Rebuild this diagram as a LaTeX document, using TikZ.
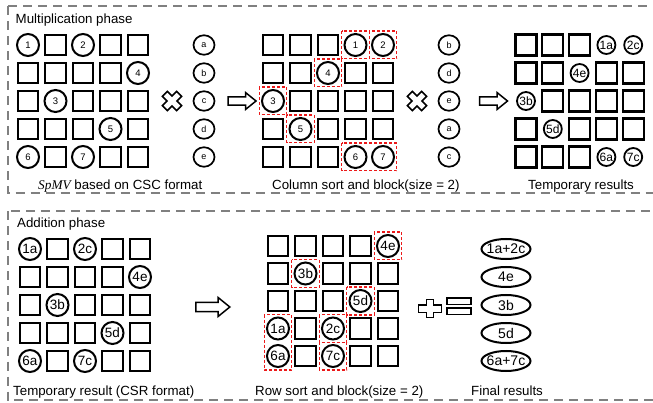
\documentclass[tikz,border=0pt]{standalone}
\usepackage{fontspec}
\setmainfont{Liberation Sans}
\newfontfamily\serifface{Liberation Serif}
\usetikzlibrary{shapes.geometric,shapes.arrows,calc}

% element table: \setel{matrix}{row-col}{label}
\newcommand\setel[3]{\expandafter\def\csname mel#1-#2\endcsname{#3}}
% 5x5 matrix: #1 name, #2 x0, #3 y0, #4 dx, #5 dy, #6 element style, #7 extra cell style
\newcommand\drawmat[7]{%
  \foreach \r in {1,...,5}{%
    \foreach \c in {1,...,5}{%
      \ifcsname mel#1-\r-\c\endcsname
        \node[#6] (#1-\r-\c) at ({#2+(\c-1)*#4},{#3+(\r-1)*#5}) {\makebox[0pt]{\csname mel#1-\r-\c\endcsname}};
      \else
        \node[cell,#7] (#1-\r-\c) at ({#2+(\c-1)*#4},{#3+(\r-1)*#5}) {};
      \fi}}}
% red dashed block around nodes #1 (top left) .. #2 (bottom right)
\newcommand\redblk[2]{\draw[blk] ($(#1)+(-13.7,-13.9)$) rectangle ($(#2)+(13.7,13.9)$);}

\definecolor{blkred}{RGB}{235,25,25}
\definecolor{panelgray}{RGB}{128,128,128}

\tikzset{
  cell/.style={draw, line width=2.2pt, minimum size=20.5pt, inner sep=0pt},
  elsmall/.style={circle, draw, line width=2pt, minimum size=22pt, inner sep=0pt,
    font=\fontsize{9.5}{10}\selectfont},
  elmid/.style={circle, draw, line width=1.8pt, minimum size=18pt, inner sep=0pt,
    font=\fontsize{12}{13}\selectfont},
  elbig/.style={circle, draw, line width=2pt, minimum size=22pt, inner sep=0pt,
    font=\fontsize{13.5}{14}\selectfont},
  vec/.style={ellipse, draw, line width=1.7pt, minimum width=21pt, minimum height=19.5pt,
    inner sep=0pt, font=\fontsize{9}{10}\selectfont},
  res/.style={ellipse, draw, line width=2pt, minimum width=49pt, minimum height=20pt,
    inner sep=0pt, font=\fontsize{14}{15}\selectfont},
  blk/.style={draw=blkred, line width=1.2pt, dash pattern=on 3pt off 2pt},
  panel/.style={draw=panelgray, line width=2pt, dash pattern=on 9pt off 6pt},
  captxt/.style={font=\fontsize{13.3}{16}\selectfont, inner sep=0pt, anchor=base west},
  bigarrow/.style={single arrow, draw, fill=white, line width=1.5pt, inner sep=3.3pt,
    single arrow head extend=4.3pt, single arrow tip angle=78, minimum height=28pt},
  opline/.style={draw, fill=white, line width=1.6pt, line join=miter},
}

\begin{document}
\begin{tikzpicture}[x=1pt,y=-1pt]
\useasboundingbox (0,0) rectangle (653,403);
\clip (0,0) rectangle (653,403);

% ---------- panels ----------
\draw[panel] (7.5,6.5) rectangle (665,193.5);
\draw[panel] (7.5,211.5) rectangle (665,400);
\node[captxt] (ttlmul) at (15.5,24) {Multiplication phase};
\node[captxt] (ttladd) at (17,228) {Addition phase};

% ---------- multiplication phase ----------
\setel{A}{1-1}{1}\setel{A}{1-3}{2}\setel{A}{2-5}{4}\setel{A}{3-2}{3}
\setel{A}{4-4}{5}\setel{A}{5-1}{6}\setel{A}{5-3}{7}
\drawmat{A}{28}{45}{27.5}{28}{elsmall}{}

\foreach \l [count=\i] in {a,b,c,d,e}
  \node[vec] (va-\i) at (204,{45+(\i-1)*28}) {\l};

\setel{B}{1-4}{1}\setel{B}{1-5}{2}\setel{B}{2-3}{4}\setel{B}{3-1}{3}
\setel{B}{4-2}{5}\setel{B}{5-4}{6}\setel{B}{5-5}{7}
\drawmat{B}{273}{45}{27.5}{28}{elsmall}{}
\redblk{B-1-4}{B-1-4}
\redblk{B-1-5}{B-1-5}
\redblk{B-2-3}{B-2-3}
\redblk{B-3-1}{B-3-1}
\redblk{B-4-2}{B-4-2}
\redblk{B-5-4}{B-5-5}

\foreach \l [count=\i] in {b,d,e,a,c}
  \node[vec] (vb-\i) at (449,{45+(\i-1)*28}) {\l};

\setel{C}{1-4}{1a}\setel{C}{1-5}{2c}\setel{C}{2-3}{4e}\setel{C}{3-1}{3b}
\setel{C}{4-2}{5d}\setel{C}{5-4}{6a}\setel{C}{5-5}{7c}
\drawmat{C}{526}{45}{26.8}{28}{elmid}{minimum size=21pt}

% multiplication signs
\foreach \px in {172,417}
  \draw[opline, shift={(\px,101)}, rotate=45]
    (-3.5,-10) -- (3.5,-10) -- (3.5,-3.5) -- (10,-3.5) -- (10,3.5) -- (3.5,3.5)
    -- (3.5,10) -- (-3.5,10) -- (-3.5,3.5) -- (-10,3.5) -- (-10,-3.5) -- (-3.5,-3.5) -- cycle;

\node[bigarrow] (arrA) at (239.5,101) {};
\node[bigarrow] (arrB) at (491,101) {};

\node[captxt] (capA) at (38,189.5) {{\serifface\itshape SpMV} based on CSC format};
\node[captxt] (capB) at (272,189.5) {Column sort and block(size = 2)};
\node[captxt] (capC) at (528,189.5) {Temporary results};

% ---------- addition phase ----------
\setel{D}{1-1}{1a}\setel{D}{1-3}{2c}\setel{D}{2-5}{4e}\setel{D}{3-2}{3b}
\setel{D}{4-4}{5d}\setel{D}{5-1}{6a}\setel{D}{5-3}{7c}
\drawmat{D}{30}{249}{27.5}{28}{elbig}{}

\node[bigarrow, minimum height=34pt, inner sep=3.8pt, single arrow head extend=5pt] (arrD) at (210,307) {};

\setel{E}{1-5}{4e}\setel{E}{2-2}{3b}\setel{E}{3-4}{5d}\setel{E}{4-1}{1a}
\setel{E}{4-3}{2c}\setel{E}{5-1}{6a}\setel{E}{5-3}{7c}
\drawmat{E}{278}{246}{27.5}{27.5}{elbig}{}
\redblk{E-1-5}{E-1-5}
\redblk{E-2-2}{E-2-2}
\redblk{E-3-4}{E-3-4}
\redblk{E-4-1}{E-5-1}
\redblk{E-4-3}{E-4-3}
\redblk{E-5-3}{E-5-3}

% plus and equals signs
\draw[opline, shift={(430,308.5)}]
  (-3.6,-9) -- (3.6,-9) -- (3.6,-3.8) -- (11.5,-3.8) -- (11.5,3.8) -- (3.6,3.8)
  -- (3.6,9) -- (-3.6,9) -- (-3.6,3.8) -- (-11.5,3.8) -- (-11.5,-3.8) -- (-3.6,-3.8) -- cycle;
\draw[opline] (447,298) rectangle (471,304.5);
\draw[opline] (447,308) rectangle (471,314.5);

\foreach \t [count=\i] in {1a+2c,4e,3b,5d,6a+7c}
  \node[res] (fr-\i) at (506,{249+(\i-1)*28}) {\makebox[0pt]{\t}};

\node[captxt] (capD) at (13,395) {Temporary result (CSR format)};
\node[captxt] (capE) at (255,395) {Row sort and block(size = 2)};
\node[captxt] (capF) at (471,395) {Final results};
\end{tikzpicture}
\end{document}
